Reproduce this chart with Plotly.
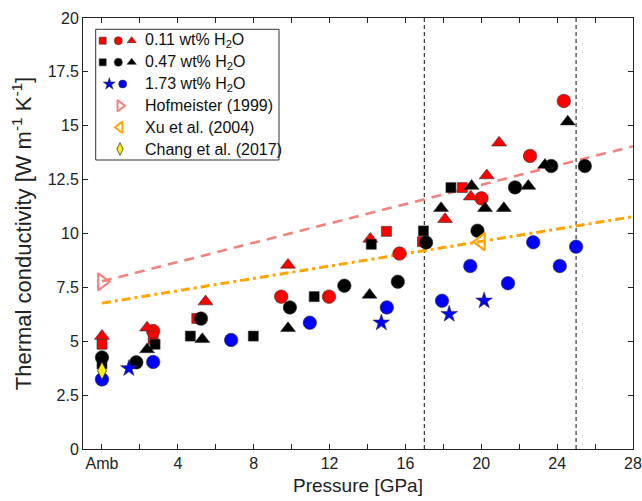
import plotly.graph_objects as go

# ---------------- data ----------------
# 0.11 wt% H2O (red)
red_sq_x = [0, 2.7, 5.0, 15.0, 16.9, 19.0]
red_sq_y = [4.86, 5.09, 6.06, 10.1, 9.62, 12.13]
red_ci_x = [2.7, 9.45, 11.97, 15.69, 20.01, 22.57, 24.35]
red_ci_y = [5.47, 7.07, 7.07, 9.07, 11.63, 13.6, 16.15]
red_tr_x = [0, 2.38, 5.46, 9.81, 14.15, 18.09, 19.45, 20.29, 20.94]
red_tr_y = [5.24, 5.63, 6.84, 8.54, 9.75, 10.66, 11.71, 12.69, 14.21]
# 0.47 wt% H2O (black)
blk_sq_x = [0, 2.8, 4.66, 7.98, 11.19, 14.2, 16.95, 18.4]
blk_sq_y = [3.95, 4.86, 5.24, 5.24, 7.07, 9.5, 10.12, 12.13]
blk_ci_x = [0, 1.81, 5.22, 9.91, 12.78, 15.6, 17.09, 19.8, 21.78, 23.69, 25.46]
blk_ci_y = [4.25, 4.02, 6.05, 6.57, 7.58, 7.76, 9.58, 10.13, 12.14, 13.13, 13.13]
blk_tr_x = [2.38, 5.29, 9.81, 14.11, 17.88, 19.49, 20.2, 21.19, 22.48, 23.36, 24.56]
blk_tr_y = [4.62, 5.09, 5.6, 7.15, 11.17, 12.2, 11.17, 11.17, 12.2, 13.18, 15.19]
# 1.73 wt% H2O (blue)
blu_st_x = [1.42, 14.73, 18.31, 20.15]
blu_st_y = [3.74, 5.86, 6.26, 6.88]
blu_ci_x = [0, 2.7, 6.81, 10.96, 15.02, 17.93, 19.42, 21.41, 22.74, 24.14, 25.0]
blu_ci_y = [3.23, 4.04, 5.06, 5.86, 6.57, 6.88, 8.49, 7.69, 9.59, 8.49, 9.39]
# literature
hof_x, hof_y = [0], [7.76]
xu_x, xu_y = [19.98], [9.62]
chang_x, chang_y = [0], [3.63]
hof_line_x, hof_line_y = [0, 28], [7.78, 14.05]
xu_line_x, xu_line_y = [0, 28], [6.77, 10.78]
# phase boundaries (vertical dashed lines)
boundaries = [17, 25]

# axis ticks
x_tickvals = list(range(0, 29, 2))
x_ticktext = ["Amb" if v == 0 else (str(v) if v % 4 == 0 else "") for v in x_tickvals]
y_tickvals = [0, 2.5, 5, 7.5, 10, 12.5, 15, 17.5, 20]
y_ticktext = ["0", "2.5", "5", "7.5", "10", "12.5", "15", "17.5", "20"]

legend_labels = ["0.11 wt% H<sub>2</sub>O", "0.47 wt% H<sub>2</sub>O", "1.73 wt% H<sub>2</sub>O",
                 "Hofmeister (1999)", "Xu et al. (2004)", "Chang et al. (2017)"]

# ---------------- styles ----------------
RED = "#FF0000"
BLK = "#000000"
BLU = "#0000FF"
HOF = "#F4837D"
XUC = "#FFA500"
YEL = "#FFF200"
FONT = "Liberation Sans, Arial, Helvetica, sans-serif"
EDGE = dict(color="#333333", width=0.6)

fig = go.Figure()

# fit lines
fig.add_trace(go.Scatter(x=hof_line_x, y=hof_line_y, mode="lines",
                         line=dict(color=HOF, width=2.6, dash="10px,7px"), showlegend=False))
fig.add_trace(go.Scatter(x=xu_line_x, y=xu_line_y, mode="lines",
                         line=dict(color=XUC, width=3, dash="9px,4px,3px,4px"), showlegend=False))


def pts(x, y, symbol, color, size, line=EDGE):
    fig.add_trace(go.Scatter(x=x, y=y, mode="markers", showlegend=False,
                             marker=dict(symbol=symbol, color=color, size=size, line=line)))


pts(red_sq_x, red_sq_y, "square", RED, 10)
pts(red_ci_x, red_ci_y, "circle", RED, 13.5)
pts(red_tr_x, red_tr_y, "triangle-up", RED, 13)
pts(blk_sq_x, blk_sq_y, "square", BLK, 10)
pts(blk_ci_x, blk_ci_y, "circle", BLK, 13.5)
pts(blk_tr_x, blk_tr_y, "triangle-up", BLK, 13)
pts(blu_ci_x, blu_ci_y, "circle", BLU, 13.5)
pts(blu_st_x, blu_st_y, "star", BLU, 12.5)
pts(chang_x, chang_y, "diamond-tall", YEL, 12.5, dict(color="#333333", width=0.8))
pts(hof_x, hof_y, "triangle-right-open", HOF, 15, dict(color=HOF, width=2.2))
pts(xu_x, xu_y, "triangle-left-open", XUC, 15, dict(color=XUC, width=2.2))

shapes = []
for b in boundaries:
    shapes.append(dict(type="line", xref="x", yref="y", x0=b, x1=b, y0=0, y1=20,
                       line=dict(color="#444444", width=1.3, dash="4px,3px"), layer="below"))

# ---------------- layout geometry (page body margin removed below) ----------------
W, H = 642, 501
PL, PR, PT, PB = 83, 633, 18, 449          # plot area in pixels
L, R, T, B = PL, W - PR, PT, H - PB

# ---------------- custom legend (overlay axes in pixel units) ----------------
rows_y = [40.7, 62.3, 84.0, 105.7, 127.3, 149.0]
text_x = 143
shapes.append(dict(type="rect", xref="x2", yref="y2", x0=95.7, x1=279, y0=29.3, y1=160,
                   line=dict(color="#333333", width=1), fillcolor="white", layer="below"))

leg_items = [
    (0, 102.7, "square", RED, 7, EDGE), (0, 118.3, "circle", RED, 8, EDGE), (0, 131.7, "triangle-up", RED, 8, EDGE),
    (1, 102.7, "square", BLK, 7, EDGE), (1, 118.3, "circle", BLK, 8, EDGE), (1, 131.7, "triangle-up", BLK, 8, EDGE),
    (2, 109.3, "star", BLU, 9, EDGE), (2, 122.7, "circle", BLU, 8, EDGE),
    (3, 120.0, "triangle-right-open", HOF, 10, dict(color=HOF, width=2)),
    (4, 120.0, "triangle-left-open", XUC, 10, dict(color=XUC, width=2)),
    (5, 120.0, "diamond-tall", YEL, 9, dict(color="#333333", width=0.8)),
]
for r, lx, sym, col, sz, ln in leg_items:
    fig.add_trace(go.Scatter(x=[lx], y=[rows_y[r]], xaxis="x2", yaxis="y2", mode="markers",
                             showlegend=False, hoverinfo="skip",
                             marker=dict(symbol=sym, color=col, size=sz, line=ln)))

annotations = []
for r, lab in enumerate(legend_labels):
    annotations.append(dict(x=text_x, y=rows_y[r], xref="x2", yref="y2", text=lab,
                            showarrow=False, xanchor="left", yanchor="middle",
                            font=dict(family=FONT, size=16, color="#111111")))

axis_common = dict(showline=True, linecolor="#222222", linewidth=1, mirror="ticks",
                   ticks="inside", ticklen=5, tickcolor="#222222", showgrid=False,
                   zeroline=False, automargin=False, ticklabeloverflow="allow",
                   tickfont=dict(family=FONT, size=16, color="#222222"))

fig.update_layout(
    width=W, height=H,
    margin=dict(l=L, r=R, t=T, b=B, pad=0),
    paper_bgcolor="white", plot_bgcolor="white",
    showlegend=False,
    font=dict(family=FONT, color="#222222"),
    xaxis=dict(range=[-1, 28], tickvals=x_tickvals, ticktext=x_ticktext,
               title=dict(text="Pressure [GPa]", font=dict(family=FONT, size=19), standoff=7),
               **axis_common),
    yaxis=dict(range=[0, 20], tickvals=y_tickvals, ticktext=y_ticktext,
               title=dict(text="Thermal conductivity [W m<sup>-1</sup> K<sup>-1</sup>]",
                          font=dict(family=FONT, size=22), standoff=9),
               **axis_common),
    xaxis2=dict(domain=[0, 1], range=[PL, PR], overlaying="x", anchor="y2", visible=False),
    yaxis2=dict(domain=[0, 1], range=[PB, PT], overlaying="y", anchor="x2", visible=False),
    shapes=shapes,
    annotations=annotations,
)

fig.write_html("out.html", config={"displayModeBar": False},
               post_script="document.body.style.margin='0';document.body.style.overflow='hidden';")
